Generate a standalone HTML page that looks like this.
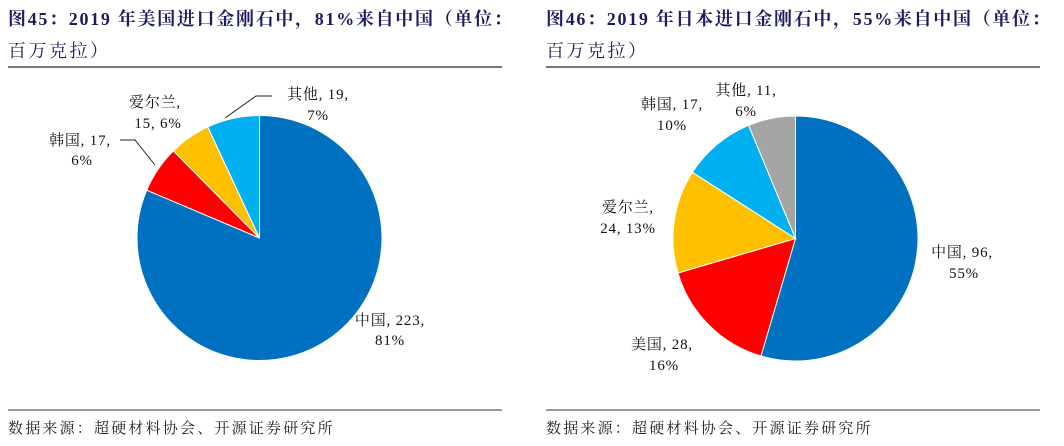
<!DOCTYPE html>
<html><head><meta charset="utf-8"><style>
body{margin:0;width:1064px;height:446px;background:#fff;overflow:hidden;font-family:"Liberation Serif","Noto Serif CJK SC",serif}
svg{position:absolute;left:0;top:0}
</style></head><body>
<svg width="1064" height="446" id="svg">
<g font-family="'Liberation Serif','Noto Serif CJK SC',serif">
<text x="8" y="25" font-size="18" font-weight="bold" fill="#1c1c60" letter-spacing="1.7">图45：2019 年美国进口金刚石中，81%来自中国（单位：</text>
<text x="8" y="57" font-size="18" fill="#1c1c60" letter-spacing="2.5">百万克拉）</text>
<line x1="8" y1="67" x2="502" y2="67" stroke="#777" stroke-width="2"/>
<line x1="8" y1="410" x2="502" y2="410" stroke="#777" stroke-width="1.5"/>
<text x="8" y="433" font-size="15" fill="#222" letter-spacing="2.2">数据来源：超硬材料协会、开源证券研究所</text>
<text x="546" y="25" font-size="18" font-weight="bold" fill="#1c1c60" letter-spacing="1.7">图46：2019 年日本进口金刚石中，55%来自中国（单位：</text>
<text x="546" y="57" font-size="18" fill="#1c1c60" letter-spacing="2.5">百万克拉）</text>
<line x1="546" y1="67" x2="1040" y2="67" stroke="#777" stroke-width="2"/>
<line x1="546" y1="410" x2="1040" y2="410" stroke="#777" stroke-width="1.5"/>
<text x="546" y="433" font-size="15" fill="#222" letter-spacing="2.2">数据来源：超硬材料协会、开源证券研究所</text>
</g>
<g id="pies"></g>
<g font-family="'Liberation Serif','Noto Serif CJK SC',serif" font-size="15" fill="#111" text-anchor="middle" letter-spacing="0.8">
<text x="390" y="325">中国, 223,</text>
<text x="390" y="345">81%</text>
<text x="80" y="145">韩国, 17,</text>
<text x="82" y="165">6%</text>
<text x="155" y="107">爱尔兰,</text>
<text x="158" y="128">15, 6%</text>
<text x="318" y="99">其他, 19,</text>
<text x="318" y="120">7%</text>
<polyline points="120,140 135,140 155,165" fill="none" stroke="#222"/>
<polyline points="272,96 256,96 225,118" fill="none" stroke="#222"/>
<text x="962" y="257">中国, 96,</text>
<text x="964" y="278">55%</text>
<text x="662" y="349">美国, 28,</text>
<text x="664" y="370">16%</text>
<text x="628" y="212">爱尔兰,</text>
<text x="628" y="233">24, 13%</text>
<text x="672" y="109">韩国, 17,</text>
<text x="672" y="130">10%</text>
<text x="746" y="95">其他, 11,</text>
<text x="746" y="116">6%</text>
</g>
</svg>
<script>
const usCategories=["中国","韩国","爱尔兰","其他"];
const usValues=[223,17,15,19];
const jpCategories=["中国","美国","爱尔兰","韩国","其他"];
const jpValues=[96,28,24,17,11];
const usColors=["#0070C0","#FF0000","#FFC000","#00B0F0"];
const jpColors=["#0070C0","#FF0000","#FFC000","#00B0F0","#A5A5A5"];
const g=document.getElementById('pies');
function drawPie(vals,cols,cx,cy,r,prefix){
  const tot=vals.reduce((a,b)=>a+b,0);let a0=0;
  vals.forEach((v,i)=>{
    const a1=a0+v/tot*2*Math.PI;
    const x0=cx+r*Math.sin(a0),y0=cy-r*Math.cos(a0),x1=cx+r*Math.sin(a1),y1=cy-r*Math.cos(a1);
    const p=document.createElementNS('http://www.w3.org/2000/svg','path');
    p.setAttribute('d',`M${cx},${cy}L${x0},${y0}A${r},${r} 0 ${a1-a0>Math.PI?1:0} 1 ${x1},${y1}Z`);
    p.setAttribute('fill',cols[i]);p.setAttribute('stroke','#fff');p.setAttribute('stroke-width','1');
    
    
    g.appendChild(p);a0=a1;
  });
}
drawPie(usValues,usColors,259.5,238,122.5,'us');
drawPie(jpValues,jpColors,795.5,238.5,122.5,'jp');
</script>
</body></html>
